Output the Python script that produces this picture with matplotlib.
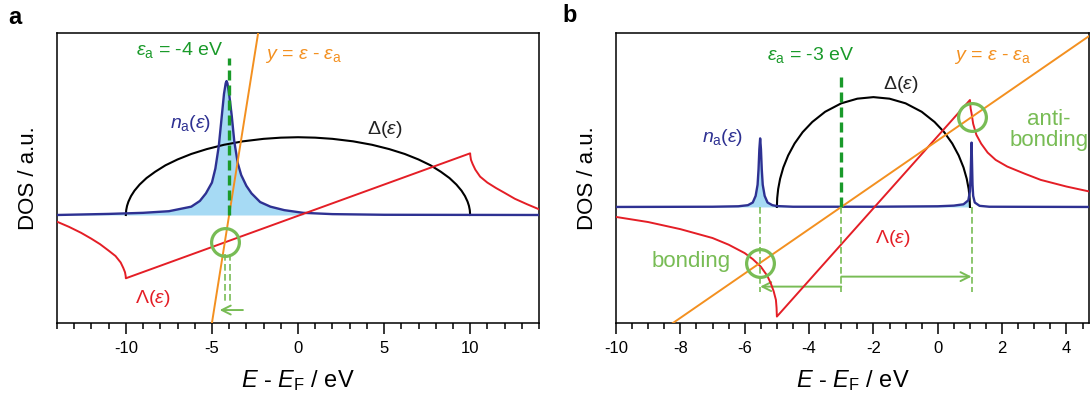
import numpy as np
import matplotlib
matplotlib.use('Agg')
import matplotlib.pyplot as plt

plt.rcParams['font.family'] = ['Liberation Sans', 'DejaVu Sans']
plt.rcParams['mathtext.fontset'] = 'custom'
plt.rcParams['mathtext.rm'] = 'Liberation Sans'
plt.rcParams['mathtext.it'] = 'Liberation Sans:italic'
plt.rcParams['axes.unicode_minus'] = False

# colours
navy = '#2e3192'
fillc = '#a6daf4'
red = '#e41e26'
orange = '#f39020'
dgreen = '#1a9a2a'
lgreen = '#78bc55'

# ---------------- panel a data (eps_a = -4 eV, band -10..10) ----------------
eps_a_a = -4.0
delta_a_e = [-10, -9.98, -9.93, -9.85, -9.7, -9.5, -9.2, -8.8, -8.3, -7.7, -7, -6.2, -5.3, -4.3,
             -3.2, -2, -1, 0, 1, 2, 3.2, 4.3, 5.3, 6.2, 7, 7.7, 8.3, 8.8, 9.2, 9.5, 9.7, 9.85,
             9.93, 9.98, 10]
delta_a_y = [0, 0.045, 0.085, 0.124, 0.175, 0.225, 0.282, 0.342, 0.40, 0.46, 0.514, 0.565, 0.61,
             0.65, 0.682, 0.705, 0.716, 0.72, 0.716, 0.705, 0.682, 0.65, 0.61, 0.565, 0.514,
             0.46, 0.40, 0.342, 0.282, 0.225, 0.175, 0.124, 0.085, 0.045, 0]
lam_a_e = [-14, -13.3, -12.6, -12, -11.5, -11, -10.6, -10.3, -10.15, -10.05, -10.01, -10,
           10, 10.01, 10.05, 10.15, 10.3, 10.58, 11, 11.5, 12, 12.6, 13.3, 14]
lam_a_y = [-0.062, -0.11, -0.165, -0.22, -0.27, -0.33, -0.38, -0.44, -0.49, -0.53, -0.565, -0.586,
           0.571, 0.55, 0.51, 0.47, 0.42, 0.355, 0.30, 0.25, 0.205, 0.15, 0.10, 0.053]
na_a_e = [-14, -11, -9, -7.5, -6.2, -5.7, -5.35, -5.0, -4.8, -4.6, -4.45, -4.3, -4.2, -4.15,
          -4.1, -4.0, -3.85, -3.7, -3.5, -3.3, -3.0, -2.7, -2.2, -1.6, -0.8, 0.3, 2, 5, 14]
na_a_y = [0.0, 0.01, 0.02, 0.035, 0.077, 0.13, 0.2, 0.3, 0.43, 0.64, 0.88, 1.12, 1.22, 1.24,
          1.22, 1.12, 0.92, 0.68, 0.48, 0.37, 0.27, 0.2, 0.12, 0.077, 0.045, 0.02, 0.008, 0.002, 0.0]
orange_a_e = [-5.0, -2.3]
orange_a_y = [-1.0, 1.7]
cross_a = (-4.24, -0.25)

# ---------------- panel b data (eps_a = -3 eV, band -5..1) ----------------
eps_a_b = -3.0
delta_b_e = [-5, -4.99, -4.96, -4.9, -4.8, -4.65, -4.45, -4.2, -3.9, -3.5, -3, -2.5, -2,
             -1.5, -1, -0.5, -0.1, 0.2, 0.45, 0.65, 0.8, 0.9, 0.96, 0.99, 1]
delta_b_y = [0, 0.40, 0.81, 1.27, 1.78, 2.32, 2.86, 3.37, 3.83, 4.29, 4.67, 4.88, 4.95,
             4.88, 4.67, 4.29, 3.83, 3.37, 2.86, 2.32, 1.78, 1.27, 0.81, 0.40, 0]
lam_b_e = [-10, -9, -8, -7, -6.5, -6, -5.75, -5.5, -5.3, -5.19, -5.1, -5.03, -5.01, -5.0,
           1.0, 1.02, 1.05, 1.1, 1.2, 1.35, 1.55, 1.8, 2.16, 2.7, 3.2, 4.0, 4.7]
lam_b_y = [-0.45, -0.68, -1.0, -1.4, -1.7, -2.08, -2.35, -2.69, -3.1, -3.44, -3.8, -4.19, -4.55, -4.94,
           4.82, 4.45, 4.22, 3.75, 3.25, 2.85, 2.45, 2.12, 1.82, 1.5, 1.22, 0.92, 0.7]
na_b_e = [-10, -7, -6.2, -5.9, -5.75, -5.66, -5.6, -5.57, -5.545, -5.52, -5.495, -5.47, -5.44,
          -5.38, -5.29, -5.14, -5.0, -4.5, -2, 0, 0.5, 0.8, 0.95, 1.0, 1.02, 1.04, 1.05, 1.06,
          1.08, 1.1, 1.15, 1.3, 1.6, 4.7]
na_b_y = [0.0, 0.01, 0.03, 0.08, 0.2, 0.5, 1.0, 1.7, 2.6, 3.09, 2.6, 1.7, 1.0,
          0.5, 0.2, 0.08, 0.04, 0.01, 0.01, 0.03, 0.06, 0.12, 0.3, 0.7, 1.4, 2.4, 2.9, 2.3,
          1.0, 0.5, 0.2, 0.05, 0.01, 0.0]
orange_b_e = [-8.3, 4.7]
orange_b_y = [-5.3, 7.7]
bond_b = (-5.52, -2.52)
anti_b = (1.05, 4.05)


def common(ax, xlim, ylim, minor, ticks):
    ax.set_xlim(xlim)
    ax.set_ylim(ylim)
    ax.set_xticks(ticks)
    ax.set_xticks(np.arange(xlim[0] - xlim[0] % minor, xlim[1] + 1e-6, minor), minor=True)
    ax.set_yticks([])
    ax.tick_params(axis='x', which='major', direction='out', length=8, width=1.1, labelsize=12, pad=5)
    ax.tick_params(axis='x', which='minor', direction='out', length=4.5, width=1.1)
    for s in ax.spines.values():
        s.set_linewidth(1.1)
    ax.set_xlabel(r'$E$ - $E_\mathrm{F}$ / eV', fontsize=17, labelpad=9)
    ax.set_ylabel('DOS / a.u.', fontsize=16, labelpad=13)


fig = plt.figure(figsize=(10.91, 3.97), dpi=100)
axa = fig.add_axes([57 / 1091, 74 / 397, 482 / 1091, 290 / 397])
axb = fig.add_axes([616 / 1091, 74 / 397, 473 / 1091, 290 / 397])

# ---- panel a ----
ax = axa
common(ax, (-14, 14), (-1.0, 1.685), 1, [-10, -5, 0, 5, 10])
ne = np.array(na_a_e)
ax.fill_between(na_a_e, 0, na_a_y, where=ne <= 0.3, color=fillc, lw=0, zorder=1)
ax.plot(na_a_e, na_a_y, color=navy, lw=1.7, zorder=3)
ax.plot(delta_a_e, delta_a_y, color='k', lw=1.5, zorder=2)
ax.plot(lam_a_e, lam_a_y, color=red, lw=1.4, zorder=4)
ax.plot(orange_a_e, orange_a_y, color=orange, lw=1.4, zorder=5)
ax.plot([eps_a_a, eps_a_a], [0, 1.45], color=dgreen, lw=2.4, dashes=(3, 1.5), zorder=6)
for xv in [cross_a[0], eps_a_a + 0.05]:
    ax.plot([xv, xv], [-0.36, -0.82], color=lgreen, lw=1.2, dashes=(4, 2), zorder=6)
ax.annotate('', xy=(-4.55, -0.88), xytext=(-3.2, -0.88),
            arrowprops=dict(arrowstyle='->', color=lgreen, lw=1.4, mutation_scale=16,
                            shrinkA=0, shrinkB=0))
ax.plot(*cross_a, 'o', ms=20, mfc='none', mec=lgreen, mew=2.3, zorder=7)
ax.text(-6.86, 1.53, r'$\varepsilon_\mathrm{a}$ = -4 eV', color=dgreen, fontsize=14,
        ha='center', va='center')
ax.text(-1.92, 1.47, r'$y$ = $\varepsilon$ - $\varepsilon_\mathrm{a}$', color=orange, fontsize=14,
        ha='left', va='center')
ax.text(-6.22, 0.85, r'$n_\mathrm{a}(\varepsilon)$', color=navy, fontsize=14, ha='center', va='center')
ax.text(5.06, 0.79, r'$\Delta(\varepsilon)$', color='#222222', fontsize=14, ha='center', va='center')
ax.text(-8.43, -0.77, r'$\Lambda(\varepsilon)$', color=red, fontsize=14, ha='center', va='center')

# ---- panel b ----
ax = axb
common(ax, (-10, 4.7), (-5.23, 7.84), 0.5, [-10, -8, -6, -4, -2, 0, 2, 4])
ne = np.array(na_b_e)
ax.fill_between(na_b_e, 0, na_b_y, where=ne <= 1.0, color=fillc, lw=0, zorder=1)
ax.plot(na_b_e, na_b_y, color=navy, lw=1.7, zorder=3)
ax.plot(delta_b_e, delta_b_y, color='k', lw=1.5, zorder=2)
ax.plot(lam_b_e, lam_b_y, color=red, lw=1.4, zorder=4)
ax.plot(orange_b_e, orange_b_y, color=orange, lw=1.4, zorder=5)
ax.plot([eps_a_b, eps_a_b], [0, 6.0], color=dgreen, lw=2.4, dashes=(3, 1.5), zorder=6)
for xv in [bond_b[0], eps_a_b, anti_b[0]]:
    ax.plot([xv, xv], [0, -3.83], color=lgreen, lw=1.2, dashes=(4, 2), zorder=6)
ax.annotate('', xy=(bond_b[0], -3.59), xytext=(eps_a_b, -3.59),
            arrowprops=dict(arrowstyle='->', color=lgreen, lw=1.4, mutation_scale=16,
                            shrinkA=0, shrinkB=0))
ax.annotate('', xy=(anti_b[0], -3.14), xytext=(eps_a_b, -3.14),
            arrowprops=dict(arrowstyle='->', color=lgreen, lw=1.4, mutation_scale=16,
                            shrinkA=0, shrinkB=0))
ax.plot(*bond_b, 'o', ms=20, mfc='none', mec=lgreen, mew=2.3, zorder=7)
ax.plot(*anti_b, 'o', ms=20, mfc='none', mec=lgreen, mew=2.3, zorder=7)
ax.text(-3.94, 6.85, r'$\varepsilon_\mathrm{a}$ = -3 eV', color=dgreen, fontsize=14,
        ha='center', va='center')
ax.text(0.5, 6.76, r'$y$ = $\varepsilon$ - $\varepsilon_\mathrm{a}$', color=orange, fontsize=14,
        ha='left', va='center')
ax.text(-1.15, 5.5, r'$\Delta(\varepsilon)$', color='#222222', fontsize=14, ha='center', va='center')
ax.text(-6.68, 3.15, r'$n_\mathrm{a}(\varepsilon)$', color=navy, fontsize=14, ha='center', va='center')
ax.text(-1.4, -1.4, r'$\Lambda(\varepsilon)$', color=red, fontsize=14, ha='center', va='center')
ax.text(-7.67, -2.48, 'bonding', color=lgreen, fontsize=16, ha='center', va='center')
ax.text(3.45, 3.47, 'anti-\nbonding', color=lgreen, fontsize=16, ha='center', va='center',
        linespacing=1.05)

fig.text(15 / 1091, 1 - 17 / 397, 'a', fontsize=17, fontweight='bold', ha='center', va='center')
fig.text(570 / 1091, 1 - 16 / 397, 'b', fontsize=17, fontweight='bold', ha='center', va='center')

fig.savefig('out.png', dpi=100)
